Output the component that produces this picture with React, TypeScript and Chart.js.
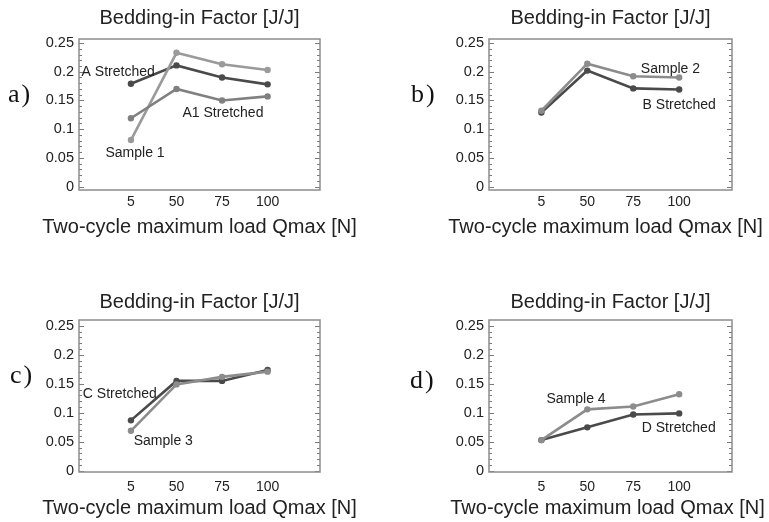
import React, { useEffect, useRef } from 'react';
import { Chart, registerables } from 'chart.js';

Chart.register(...registerables);

// ---------- data ----------
const loads = ['5', '50', '75', '100'];
const yTickValues = [0, 0.05, 0.1, 0.15, 0.2, 0.25];
const yTickLabels = ['0', '0.05', '0.1', '0.15', '0.2', '0.25'];
const chartTitle = 'Bedding-in Factor [J/J]';
const xAxisTitle = 'Two-cycle maximum load Qmax [N]';

const aStretched = [0.179, 0.211, 0.19, 0.178];
const sample1 = [0.081, 0.233, 0.213, 0.203];
const a1Stretched = [0.119, 0.17, 0.15, 0.157];

const sample2 = [0.132, 0.214, 0.192, 0.19];
const bStretched = [0.129, 0.202, 0.171, 0.169];

const cStretched = [0.087, 0.155, 0.155, 0.174];
const sample3 = [0.069, 0.149, 0.162, 0.171];

const sample4 = [0.053, 0.106, 0.111, 0.132];
const dStretched = [0.053, 0.075, 0.097, 0.099];

// in-plot labels: text, load index, value
const notesA = [
  { text: 'A Stretched', x: -0.28, y: 0.2 },
  { text: 'A1 Stretched', x: 2.02, y: 0.128 },
  { text: 'Sample 1', x: 0.09, y: 0.058 },
];
const notesB = [
  { text: 'Sample 2', x: 2.81, y: 0.2045 },
  { text: 'B Stretched', x: 3.0, y: 0.142 },
];
const notesC = [
  { text: 'C Stretched', x: -0.245, y: 0.132 },
  { text: 'Sample 3', x: 0.71, y: 0.052 },
];
const notesD = [
  { text: 'Sample 4', x: 0.755, y: 0.123 },
  { text: 'D Stretched', x: 2.99, y: 0.073 },
];

// ---------- styles ----------
const SANS = '"Liberation Sans", Arial, Helvetica, sans-serif';
const DARK = '#4a4a4a';
const MID = '#808080';
const LIGHT = '#8c8c8c';
const LIGHTER = '#9a9a9a';
const TEXT = '#222222';

const topRow = { titleTop: 6.5, titleBottom: 8.5, xHeight: 71, tickPad: 3.9, xTitleBottom: 22, yMin: -0.006, yMax: 0.257 };
const bottomRow = { titleTop: 29.5, titleBottom: 5.5, xHeight: 50, tickPad: 6.6, xTitleBottom: 1.7, yMin: -0.002, yMax: 0.26 };

const panels = [
  {
    tag: 'a)', tagLeft: 8, tagTop: 81, left: 0, top: 0, w: 385, h: 261, yWidth: 79, padRight: 65, xTitleShift: 0, row: topRow,
    series: [
      { name: 'A1 Stretched', values: a1Stretched, color: MID },
      { name: 'Sample 1', values: sample1, color: LIGHTER },
      { name: 'A Stretched', values: aStretched, color: DARK },
    ],
    notes: notesA,
  },
  {
    tag: 'b)', tagLeft: 411, tagTop: 81, left: 385, top: 0, w: 384, h: 261, yWidth: 104, padRight: 37, xTitleShift: -5, row: topRow,
    series: [
      { name: 'Sample 2', values: sample2, color: LIGHT },
      { name: 'B Stretched', values: bStretched, color: DARK },
    ],
    notes: notesB,
  },
  {
    tag: 'c)', tagLeft: 10, tagTop: 362, left: 0, top: 261, w: 385, h: 261, yWidth: 79, padRight: 65, xTitleShift: 0, row: bottomRow,
    series: [
      { name: 'Sample 3', values: sample3, color: LIGHT },
      { name: 'C Stretched', values: cStretched, color: DARK },
    ],
    notes: notesC,
  },
  {
    tag: 'd)', tagLeft: 410, tagTop: 367, left: 385, top: 261, w: 384, h: 261, yWidth: 104, padRight: 37, xTitleShift: -3, row: bottomRow,
    series: [
      { name: 'Sample 4', values: sample4, color: LIGHT },
      { name: 'D Stretched', values: dStretched, color: DARK },
    ],
    notes: notesD,
  },
];

const framePlugin = {
  id: 'frame',
  beforeDatasetsDraw(chart: any) {
    const { ctx, chartArea: a, scales } = chart;
    const y = scales.y;
    ctx.save();
    ctx.strokeStyle = '#7a7a7a';
    ctx.lineWidth = 1;
    for (let i = 0; i <= 25; i++) {
      const py = Math.round(y.getPixelForValue(i / 100)) + 0.5;
      if (py < a.top || py > a.bottom) continue;
      const len = i % 5 === 0 ? 5 : 3;
      ctx.beginPath();
      ctx.moveTo(a.left, py);
      ctx.lineTo(a.left + len, py);
      ctx.moveTo(a.right, py);
      ctx.lineTo(a.right - len, py);
      ctx.stroke();
    }
    ctx.strokeStyle = '#8c8c8c';
    ctx.lineWidth = 1.5;
    ctx.strokeRect(a.left, a.top, a.right - a.left, a.bottom - a.top);
    ctx.restore();
  },
};

function makeNotesPlugin(notes: { text: string; x: number; y: number }[], titleBottom: number, shift: number) {
  return {
    id: 'notes',
    afterDatasetsDraw(chart: any) {
      const { ctx, scales, chartArea } = chart;
      ctx.save();
      ctx.font = `14px ${SANS}`;
      ctx.fillStyle = TEXT;
      ctx.textAlign = 'center';
      ctx.textBaseline = 'middle';
      notes.forEach((n) => {
        ctx.fillText(n.text, scales.x.getPixelForValue(n.x), scales.y.getPixelForValue(n.y));
      });
      // x-axis title drawn without width compression
      ctx.font = `20px ${SANS}`;
      ctx.fillText(xAxisTitle, (chartArea.left + chartArea.right) / 2 + shift, chart.height - titleBottom - 12);
      ctx.restore();
    },
  };
}

function Panel({ p }: { p: any }) {
  const ref = useRef<HTMLCanvasElement | null>(null);
  useEffect(() => {
    if (!ref.current) return;
    const r = p.row;
    const chart = new Chart(ref.current, {
      type: 'line',
      data: {
        datasets: p.series.map((s: any) => ({
          label: s.name,
          data: s.values.map((v: number, i: number) => ({ x: i, y: v })),
          borderColor: s.color,
          backgroundColor: s.color,
          pointBackgroundColor: s.color,
          pointBorderColor: s.color,
          borderWidth: 2.6,
          pointRadius: 3.2,
          pointBorderWidth: 0,
          tension: 0,
        })),
      },
      options: {
        responsive: false,
        animation: false,
        events: [],
        layout: { padding: { left: 0, right: p.padRight, top: 0, bottom: 0 } },
        plugins: {
          legend: { display: false },
          tooltip: { enabled: false },
          title: {
            display: true,
            text: chartTitle,
            fullSize: false,
            color: TEXT,
            font: { family: SANS, size: 20, weight: 'normal', lineHeight: 1.2 },
            padding: { top: r.titleTop, bottom: r.titleBottom },
          },
        },
        scales: {
          x: {
            type: 'linear',
            min: -1.14,
            max: 4.15,
            afterBuildTicks: (s: any) => {
              s.ticks = loads.map((_, i) => ({ value: i }));
            },
            afterFit: (s: any) => {
              s.height = r.xHeight;
            },
            grid: { display: false, drawTicks: false },
            border: { display: false },
            ticks: {
              autoSkip: false,
              maxRotation: 0,
              padding: r.tickPad,
              color: TEXT,
              font: { family: SANS, size: 14, lineHeight: 1.2 },
              callback: (v: any) => loads[Math.round(Number(v))],
            },
            title: { display: false },
          },
          y: {
            type: 'linear',
            min: r.yMin,
            max: r.yMax,
            afterBuildTicks: (s: any) => {
              s.ticks = yTickValues.map((v) => ({ value: v }));
            },
            afterFit: (s: any) => {
              s.width = p.yWidth;
            },
            grid: { display: false, drawTicks: false },
            border: { display: false },
            ticks: {
              autoSkip: false,
              padding: 5,
              color: TEXT,
              font: { family: SANS, size: 14.5, lineHeight: 1.2 },
              callback: (_v: any, i: number) => yTickLabels[i],
            },
          },
        },
      },
      plugins: [framePlugin, makeNotesPlugin(p.notes, r.xTitleBottom, p.xTitleShift)],
    } as any);
    return () => chart.destroy();
  }, [p]);
  return (
    <canvas
      ref={ref}
      width={p.w}
      height={p.h}
      style={{ position: 'absolute', left: p.left, top: p.top, width: p.w, height: p.h }}
    />
  );
}

export default function App() {
  return (
    <div style={{ position: 'absolute', left: 0, top: 0, width: 769, height: 522, background: '#ffffff', overflow: 'hidden' }}>
      {panels.map((p) => (
        <Panel key={p.tag} p={p} />
      ))}
      {panels.map((p) => (
        <div
          key={'t' + p.tag}
          style={{
            position: 'absolute',
            left: p.tagLeft,
            top: p.tagTop,
            fontFamily: '"Liberation Serif", "Times New Roman", serif',
            fontSize: 26,
            letterSpacing: 2,
            lineHeight: 1,
            color: '#111',
          }}
        >
          {p.tag}
        </div>
      ))}
    </div>
  );
}
